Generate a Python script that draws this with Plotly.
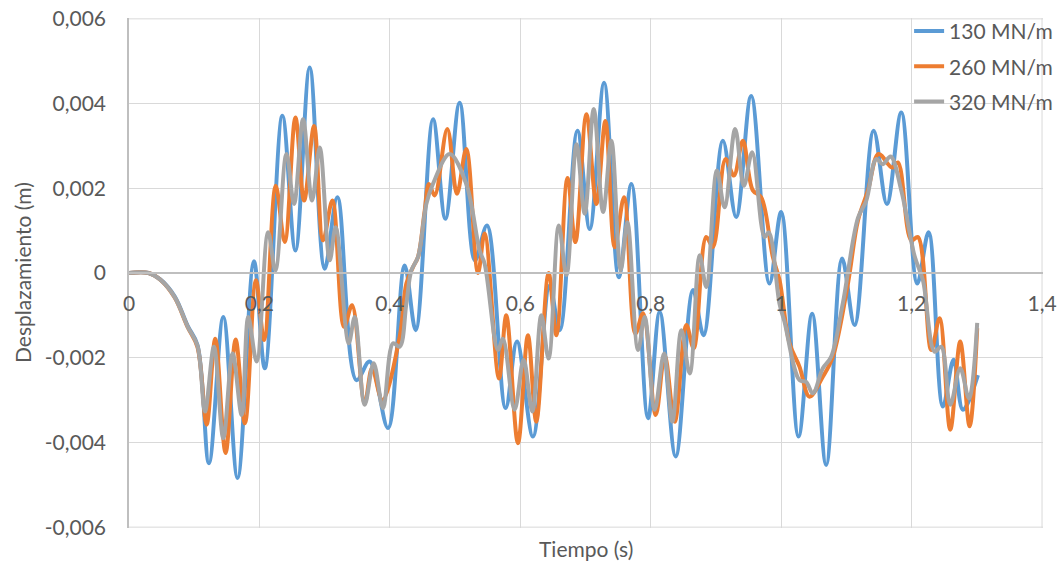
import plotly.graph_objects as go

# ---- data ----
t_130 = [0, 0.03, 0.048, 0.07, 0.09, 0.105, 0.1226, 0.1446, 0.1665, 0.1916, 0.2082, 0.2352, 0.2552, 0.2771,
         0.3001, 0.3195, 0.3487, 0.369, 0.3972, 0.4227, 0.4396, 0.4662, 0.4851, 0.507, 0.5305, 0.5489, 0.5775,
         0.5949, 0.6194, 0.645, 0.6605, 0.6876, 0.7065, 0.7285, 0.751, 0.7704, 0.7959, 0.8138, 0.8383, 0.8649,
         0.881, 0.9106, 0.931, 0.954, 0.9821, 1.0, 1.0266, 1.0475, 1.069, 1.0935, 1.1126, 1.1418, 1.1622, 1.1842,
         1.2087, 1.2261, 1.248, 1.2644, 1.2787, 1.3017]
d_130 = [0, 0, -0.00015, -0.00055, -0.00125, -0.0017, -0.00449, -0.00104, -0.00484, 0.00028, -0.00225, 0.00371,
         0.00053, 0.00485, 0.0001, 0.00179, -0.00253, -0.00209, -0.00366, 0.00018, -0.00135, 0.00363, 0.00128,
         0.00402, 0.0003, 0.00112, -0.00319, -0.00162, -0.00386, -0.0003, -0.00135, 0.00336, 0.00104, 0.00449,
         -0.0001, 0.0021, -0.00343, -0.00092, -0.00433, -0.0004, -0.00147, 0.00312, 0.00132, 0.00418, -0.00025,
         0.00144, -0.00386, -0.00096, -0.00453, 0.00034, -0.00123, 0.00336, 0.00163, 0.00379, -0.00025, 0.00096,
         -0.00315, -0.00205, -0.00323, -0.00241]

t_260 = [0, 0.03, 0.048, 0.07, 0.09, 0.105, 0.119, 0.1323, 0.1481, 0.1635, 0.1778, 0.1946, 0.2072, 0.225, 0.2388,
         0.2552, 0.2685, 0.2838, 0.2976, 0.3119, 0.3298, 0.342, 0.3614, 0.3727, 0.3885, 0.4151, 0.4253, 0.4355,
         0.4432, 0.4534, 0.46, 0.4687, 0.4881, 0.5029, 0.5172, 0.5351, 0.5453, 0.5673, 0.5785, 0.5964, 0.6117,
         0.6245, 0.6434, 0.6554, 0.6723, 0.6845, 0.7014, 0.7167, 0.7305, 0.7448, 0.7591, 0.7765, 0.7883, 0.8077,
         0.8215, 0.8368, 0.8547, 0.8659, 0.8851, 0.8953, 0.9147, 0.9275, 0.9413, 0.9566, 0.9694, 0.9872, 0.9974,
         1.0128, 1.0281, 1.0434, 1.0639, 1.0792, 1.1024, 1.1178, 1.1331, 1.1494, 1.1699, 1.179, 1.1995, 1.2097,
         1.2301, 1.2429, 1.2593, 1.2746, 1.2889, 1.3006]
d_260 = [0, 0, -0.00016, -0.00058, -0.00128, -0.00175, -0.00358, -0.00155, -0.00425, -0.00157, -0.00355, -0.00017,
         -0.00158, 0.00206, 0.00073, 0.00367, 0.00171, 0.00347, 0.00077, 0.00171, -0.00127, -0.00076, -0.00307,
         -0.00225, -0.003, -0.0015, -0.00025, 0.00014, 0.00038, 0.00147, 0.0021, 0.00183, 0.0034, 0.00187, 0.00293,
         0.0, 0.00093, -0.00249, -0.001, -0.00402, -0.00147, -0.00351, 0.0, -0.00147, 0.00224, 0.00073, 0.00375,
         0.00163, 0.00359, 0.00061, 0.00179, -0.00143, -0.00095, -0.00335, -0.00194, -0.00351, -0.00123, -0.00178,
         0.00085, 0.00061, 0.00269, 0.0023, 0.00312, 0.00195, 0.00179, 0.00038, -0.00016, -0.00166, -0.00221,
         -0.00292, -0.00245, -0.00198, -0.00025, 0.00124, 0.00195, 0.00281, 0.00249, 0.00261, 0.00077, 0.00085,
         -0.00182, -0.00107, -0.0037, -0.00162, -0.00362, -0.0013]

t_320 = [0, 0.03, 0.048, 0.07, 0.09, 0.105, 0.1165, 0.1303, 0.1446, 0.1589, 0.1727, 0.1829, 0.1957, 0.2133, 0.2245,
         0.2414, 0.2531, 0.2669, 0.2807, 0.2925, 0.3078, 0.317, 0.3369, 0.3461, 0.3614, 0.3752, 0.3895, 0.4049,
         0.4151, 0.4253, 0.433, 0.4432, 0.4559, 0.466, 0.4917, 0.5172, 0.5377, 0.5453, 0.5658, 0.5734, 0.5913,
         0.6051, 0.6184, 0.6322, 0.6434, 0.659, 0.6708, 0.6861, 0.6988, 0.7126, 0.727, 0.7397, 0.754, 0.7642,
         0.7806, 0.7908, 0.8061, 0.8204, 0.8332, 0.847, 0.8598, 0.8751, 0.8851, 0.9014, 0.9132, 0.9295, 0.9428,
         0.9556, 0.9745, 0.9811, 0.9974, 1.0051, 1.0281, 1.0383, 1.0485, 1.0639, 1.0766, 1.0945, 1.1178, 1.1306,
         1.1458, 1.156, 1.1678, 1.1842, 1.2046, 1.2174, 1.2353, 1.2455, 1.2593, 1.2746, 1.2879, 1.3006]
d_320 = [0, 0, -0.00016, -0.00057, -0.00127, -0.00172, -0.00327, -0.00174, -0.0039, -0.0019, -0.00335, -0.00104,
         -0.00209, 0.00096, 0.00006, 0.00281, 0.00163, 0.00363, 0.00171, 0.00296, 0.0003, 0.00108, -0.00166,
         -0.00104, -0.00311, -0.00213, -0.00319, -0.00166, -0.00174, -0.00072, 0.00006, 0.00038, 0.00163, 0.0021,
         0.00281, 0.0021, 0.00053, 0.00022, -0.00182, -0.00155, -0.00323, -0.00205, -0.00327, -0.001, -0.00202,
         0.00112, -0.00005, 0.00304, 0.0014, 0.00387, 0.00144, 0.00312, 0.00006, 0.0012, -0.00182, -0.00104,
         -0.00323, -0.0019, -0.00351, -0.00135, -0.00237, 0.00042, -0.00033, 0.00242, 0.00155, 0.0034, 0.00206,
         0.00285, 0.00085, 0.00096, -0.00072, -0.00115, -0.00253, -0.00257, -0.00284, -0.00225, -0.00198,
         -0.00072, 0.0013, 0.00171, 0.00269, 0.00257, 0.00275, 0.00195, 0.0004, -0.00017, -0.00186, -0.00174,
         -0.00311, -0.00225, -0.00296, -0.00118]

series_names = ["130 MN/m", "260 MN/m", "320 MN/m"]
x_tick_vals = [0, 0.2, 0.4, 0.6, 0.8, 1.0, 1.2, 1.4]
x_tick_text = ["0", "0,2", "0,4", "0,6", "0,8", "1", "1,2", "1,4"]
y_tick_vals = [-0.006, -0.004, -0.002, 0, 0.002, 0.004, 0.006]
y_tick_text = ["-0,006", "-0,004", "-0,002", "0", "0,002", "0,004", "0,006"]
x_title = "Tiempo (s)"
y_title = "Desplazamiento (m)"

colors = ["#5B9BD5", "#ED7D31", "#A5A5A5"]
FONT = "Lato"
TXT = "#595959"
GRID = "#D9D9D9"
FS = 21

fig = go.Figure()
for i, (t, d) in enumerate([(t_130, d_130), (t_260, d_260), (t_320, d_320)]):
    fig.add_trace(go.Scatter(
        x=t, y=d, mode="lines", name=series_names[i], legendgroup=series_names[i],
        line=dict(color=colors[i], width=4, shape="spline", smoothing=1.0),
    ))

# edge gridlines (top, bottom, right) drawn explicitly
edge_shapes = [
    dict(type="line", xref="paper", yref="y", x0=0, x1=1, y0=y_tick_vals[0], y1=y_tick_vals[0],
         line=dict(color=GRID, width=1), layer="below"),
    dict(type="line", xref="paper", yref="y", x0=0, x1=1, y0=y_tick_vals[-1], y1=y_tick_vals[-1],
         line=dict(color=GRID, width=1), layer="below"),
    dict(type="line", xref="x", yref="paper", x0=x_tick_vals[-1], x1=x_tick_vals[-1], y0=0, y1=1,
         line=dict(color=GRID, width=1), layer="below"),
]

fig.update_layout(
    width=1062, height=564,
    margin=dict(l=129, r=19, t=18, b=36, autoexpand=False),
    paper_bgcolor="white", plot_bgcolor="white",
    font=dict(family=FONT, size=FS, color=TXT),
    showlegend=True,
    legend=dict(x=0.8535, y=1.014, xanchor="left", yanchor="top", bgcolor="rgba(0,0,0,0)",
                font=dict(family=FONT, size=FS, color=TXT), tracegroupgap=5),
    xaxis=dict(range=[0, 1.4015], tickvals=x_tick_vals, ticktext=x_tick_text,
               showgrid=True, gridcolor=GRID, gridwidth=1,
               showline=True, linecolor="#BFBFBF", linewidth=1.5,
               zeroline=False, ticks="", anchor="free", position=0.5, automargin=False,
               ticklabelstandoff=12, tickfont=dict(family=FONT, size=FS, color=TXT)),
    yaxis=dict(range=[-0.00602, 0.00602], tickvals=y_tick_vals, ticktext=y_tick_text,
               showgrid=True, gridcolor=GRID, gridwidth=1,
               showline=True, linecolor="#BFBFBF", linewidth=1.5, automargin=False,
               zeroline=False, ticks="", ticklabelstandoff=17,
               tickfont=dict(family=FONT, size=FS, color=TXT)),
    shapes=edge_shapes,
    annotations=[
        dict(text=x_title, xref="paper", yref="paper", x=0.5, y=0, yshift=-20,
             xanchor="center", yanchor="middle", showarrow=False,
             font=dict(family=FONT, size=FS, color=TXT)),
        dict(text=y_title, xref="paper", yref="paper", x=0, y=0.5, xshift=-107,
             xanchor="center", yanchor="middle", textangle=-90, showarrow=False,
             font=dict(family=FONT, size=FS, color=TXT)),
    ],
)

fig.write_html("out.html", config={"displayModeBar": False},
               post_script="document.body.style.margin='0px';")
